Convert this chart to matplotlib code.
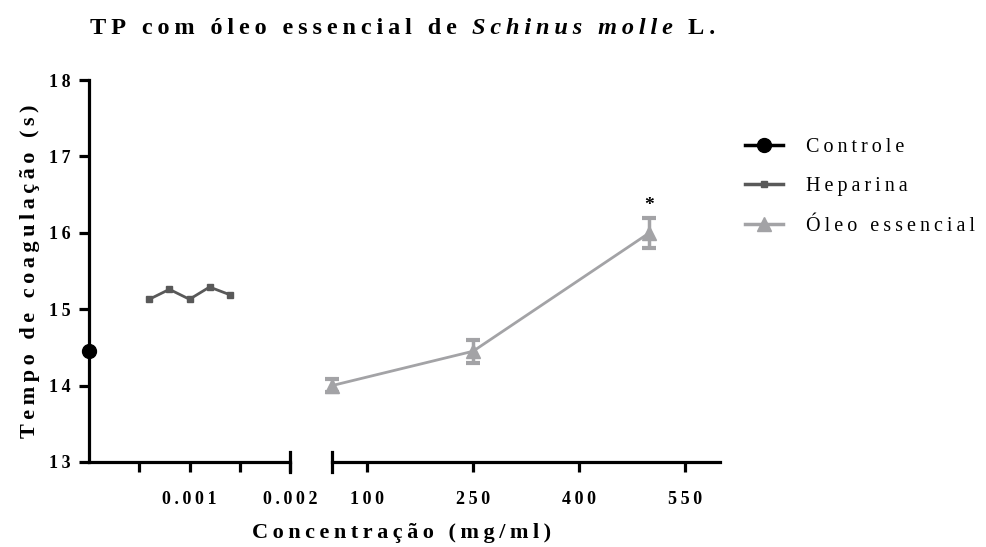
import numpy as np
import matplotlib
matplotlib.use("Agg")
import matplotlib.pyplot as plt
from matplotlib.lines import Line2D

#---------------------------------------------------------------
# TP com oleo essencial - broken x axis (heparina / oleo)
#---------------------------------------------------------------

# data
controle_x = [0.0]
controle_y = [14.45]

heparina_x = [0.0006, 0.0008, 0.0010, 0.0012, 0.0014]
heparina_y = [15.13, 15.26, 15.13, 15.29, 15.19]

oleo_x = [50, 250, 500]
oleo_y = [14.0, 14.45, 16.0]
oleo_err = [0.09, 0.15, 0.2]

left_ticks = [0.0005, 0.001, 0.0015, 0.002]
left_labels = ["", "0.001", "", "0.002"]
right_ticks = [100, 250, 400, 550]
y_ticks = [13, 14, 15, 16, 17, 18]

c_ctrl = "black"
c_hep = "#595959"
c_oleo = "#a3a3a6"

TS = "\u2009"  # thin space, the original has wide letter spacing


def spaced(s):
    return TS.join(s)


plt.rcParams['font.family'] = ['Liberation Serif', 'DejaVu Serif']

fig = plt.figure(figsize=(9.86, 5.47), dpi=100)
ax1 = fig.add_axes([89/986, 85/547, 201/986, 382/547])
ax2 = fig.add_axes([332/986, 85/547, 388/986, 382/547], sharey=ax1)

lw_ax = 2.3
tick_fs = 13
for ax in (ax1, ax2):
    ax.spines['top'].set_visible(False)
    ax.spines['right'].set_visible(False)
    ax.spines['bottom'].set_linewidth(lw_ax)
    ax.spines['left'].set_linewidth(lw_ax)
    ax.tick_params(width=lw_ax, length=7)
ax2.spines['left'].set_visible(False)
ax2.tick_params(axis='y', left=False, labelleft=False)

ax1.set_ylim(13, 18)
ax1.set_yticks(y_ticks)
ax1.set_yticklabels([spaced(str(v)) for v in y_ticks], fontweight='bold', fontsize=tick_fs)
ax1.set_xlim(0, 0.002)
ax1.set_xticks(left_ticks)
ax1.set_xticklabels([spaced(s) for s in left_labels], fontweight='bold', fontsize=tick_fs)
ax1.tick_params(axis='x', pad=14)
ax1.tick_params(axis='y', pad=6)

ax2.set_xlim(50, 600)
ax2.set_xticks(right_ticks)
ax2.set_xticklabels([spaced(str(v)) for v in right_ticks], fontweight='bold', fontsize=tick_fs)
ax2.tick_params(axis='x', pad=14)

# break marks
ax1.plot([1, 1], [-0.025, 0.025], transform=ax1.transAxes, color='black', lw=lw_ax, clip_on=False)
ax2.plot([0, 0], [-0.025, 0.025], transform=ax2.transAxes, color='black', lw=lw_ax, clip_on=False)

ax1.plot(controle_x, controle_y, color=c_ctrl, marker='o', ms=10, lw=2.5, clip_on=False, zorder=5)
ax1.plot(heparina_x, heparina_y, color=c_hep, marker='s', ms=5, lw=2, clip_on=False)
ax2.errorbar(oleo_x, oleo_y, yerr=oleo_err, color=c_oleo, marker='^', ms=10, lw=2,
             elinewidth=2.5, capsize=5, capthick=3, clip_on=False)
ax2.text(oleo_x[2], oleo_y[2] + oleo_err[2] + 0.04, "*", ha='center', va='bottom',
         fontsize=14, fontweight='bold')

ax1.set_ylabel(spaced("Tempo de coagulação (s)"), fontsize=16, fontweight='bold', labelpad=7)
fig.text(402/986, 1 - 533/547, spaced("Concentração (mg/ml)"), ha='center', va='center',
         fontsize=16, fontweight='bold')

# title in three pieces (italic species name)
r = fig.canvas.get_renderer()
x = 90/986
ty = 1 - 28/547
for part, style in [("TP com óleo essencial de ", 'normal'),
                    ("Schinus molle", 'italic'),
                    (" L.", 'normal')]:
    t = fig.text(x, ty, spaced(part), ha='left', va='center', fontsize=17.5,
                 fontweight='bold', fontstyle=style)
    bb = t.get_window_extent(renderer=r)
    x = x + (bb.width + 4) / fig.bbox.width

# legend
handles = [
    Line2D([], [], color=c_ctrl, marker='o', ms=10, lw=2.5),
    Line2D([], [], color=c_hep, marker='s', ms=5, lw=2.5),
    Line2D([], [], color=c_oleo, marker='^', ms=10, lw=2.5),
]
fig.legend(handles, [spaced(s) for s in ["Controle", "Heparina", "Óleo essencial"]],
           loc='upper left', bbox_to_anchor=(727/986, 1 - 120/547), frameon=False,
           fontsize=14.5, handlelength=1.9, labelspacing=1.0, handletextpad=1.1)

fig.savefig("out.png", dpi=100)
